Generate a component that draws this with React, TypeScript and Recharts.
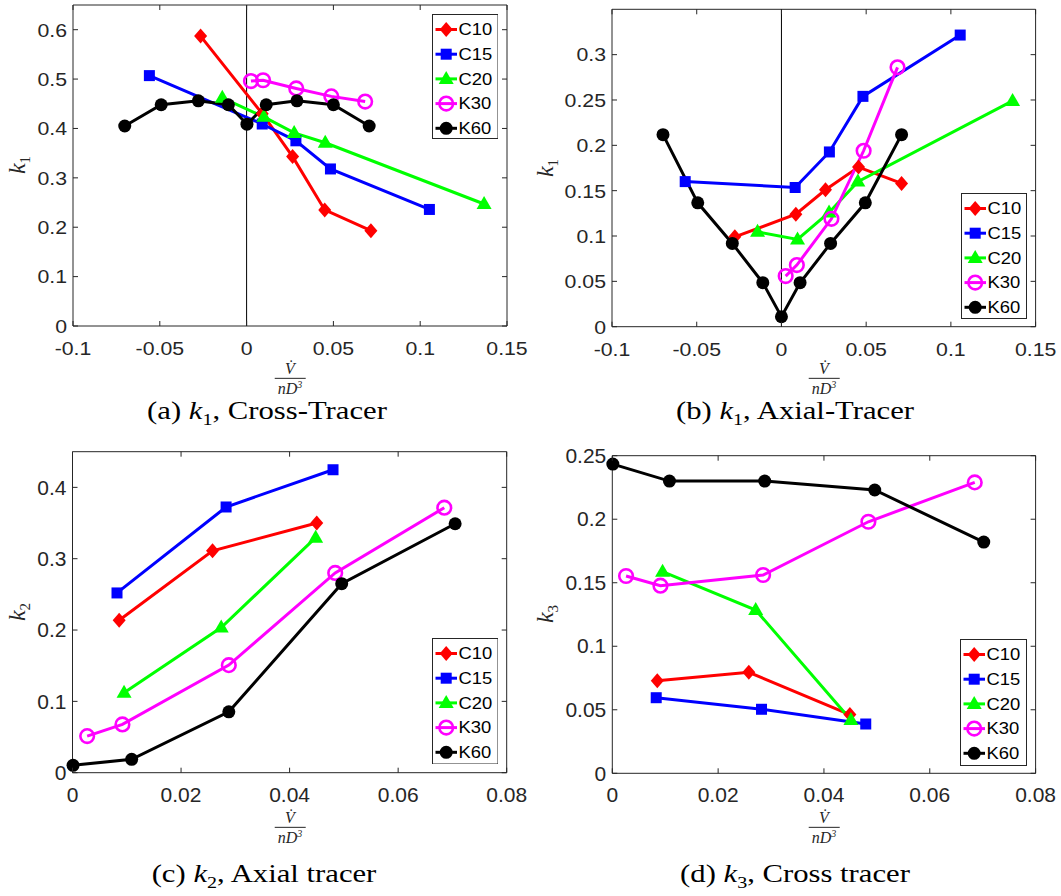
import { LineChart, Line, XAxis, YAxis, ReferenceArea, ReferenceLine } from 'recharts';

// (a) k1, cross tracer
const aC10 = [{ x: -0.0265, y: 0.587 }, { x: 0.009, y: 0.43 }, { x: 0.0265, y: 0.343 }, { x: 0.045, y: 0.235 }, { x: 0.0716, y: 0.193 }];
const aC15 = [{ x: -0.056, y: 0.507 }, { x: 0.009, y: 0.409 }, { x: 0.0284, y: 0.375 }, { x: 0.0483, y: 0.318 }, { x: 0.1053, y: 0.236 }];
const aC20 = [{ x: -0.014, y: 0.462 }, { x: 0.0099, y: 0.4235 }, { x: 0.0274, y: 0.391 }, { x: 0.0453, y: 0.371 }, { x: 0.1368, y: 0.247 }];
const aK30 = [{ x: 0.0025, y: 0.496 }, { x: 0.0095, y: 0.4976 }, { x: 0.0286, y: 0.481 }, { x: 0.0488, y: 0.465 }, { x: 0.0683, y: 0.4545 }];
const aK60 = [
  { x: -0.0702, y: 0.405 }, { x: -0.0492, y: 0.448 }, { x: -0.0278, y: 0.456 }, { x: -0.0105, y: 0.448 }, { x: 0.0002, y: 0.4086 },
  { x: 0.0113, y: 0.448 }, { x: 0.029, y: 0.456 }, { x: 0.05, y: 0.448 }, { x: 0.0706, y: 0.405 },
];

// (b) k1, axial tracer
const bC10 = [{ x: -0.0275, y: 0.0991 }, { x: 0.0085, y: 0.124 }, { x: 0.026, y: 0.151 }, { x: 0.0455, y: 0.176 }, { x: 0.0709, y: 0.158 }];
const bC15 = [{ x: -0.0568, y: 0.16 }, { x: 0.0081, y: 0.1535 }, { x: 0.0283, y: 0.1927 }, { x: 0.0481, y: 0.254 }, { x: 0.1055, y: 0.3216 }];
const bC20 = [{ x: -0.0141, y: 0.1046 }, { x: 0.0095, y: 0.0962 }, { x: 0.0281, y: 0.126 }, { x: 0.0451, y: 0.16 }, { x: 0.1364, y: 0.249 }];
const bK30 = [{ x: 0.0025, y: 0.0558 }, { x: 0.0091, y: 0.068 }, { x: 0.0295, y: 0.119 }, { x: 0.0485, y: 0.194 }, { x: 0.0685, y: 0.286 }];
const bK60 = [
  { x: -0.0699, y: 0.2118 }, { x: -0.0494, y: 0.1366 }, { x: -0.029, y: 0.0918 }, { x: -0.011, y: 0.0485 }, { x: 0, y: 0.011 },
  { x: 0.011, y: 0.0485 }, { x: 0.029, y: 0.0918 }, { x: 0.0495, y: 0.1366 }, { x: 0.0709, y: 0.2118 },
];

// (c) k2, axial tracer
const cC10 = [{ x: 0.0086, y: 0.2138 }, { x: 0.0258, y: 0.311 }, { x: 0.045, y: 0.35 }];
const cC15 = [{ x: 0.0082, y: 0.252 }, { x: 0.0283, y: 0.3725 }, { x: 0.048, y: 0.4247 }];
const cC20 = [{ x: 0.0095, y: 0.112 }, { x: 0.0274, y: 0.2035 }, { x: 0.0448, y: 0.3295 }];
const cK30 = [{ x: 0.0027, y: 0.0513 }, { x: 0.0092, y: 0.0677 }, { x: 0.0288, y: 0.1508 }, { x: 0.0484, y: 0.28 }, { x: 0.0685, y: 0.3715 }];
const cK60 = [{ x: 0.0001, y: 0.0103 }, { x: 0.0109, y: 0.0187 }, { x: 0.0288, y: 0.0854 }, { x: 0.0496, y: 0.265 }, { x: 0.0705, y: 0.349 }];

// (d) k3, cross tracer
const dC10 = [{ x: 0.0085, y: 0.0729 }, { x: 0.0258, y: 0.0795 }, { x: 0.0449, y: 0.0462 }];
const dC15 = [{ x: 0.0083, y: 0.0595 }, { x: 0.0282, y: 0.0504 }, { x: 0.0479, y: 0.0388 }];
const dC20 = [{ x: 0.0095, y: 0.1587 }, { x: 0.0271, y: 0.1285 }, { x: 0.0451, y: 0.042 }];
const dK30 = [{ x: 0.0026, y: 0.1553 }, { x: 0.0091, y: 0.1477 }, { x: 0.0285, y: 0.1561 }, { x: 0.0484, y: 0.198 }, { x: 0.0685, y: 0.229 }];
const dK60 = [{ x: 0.0001, y: 0.2434 }, { x: 0.0108, y: 0.23 }, { x: 0.0288, y: 0.23 }, { x: 0.0496, y: 0.223 }, { x: 0.0702, y: 0.182 }];

const xTicksWide = [-0.1, -0.05, 0, 0.05, 0.1, 0.15];
const xTicksNarrow = [0, 0.02, 0.04, 0.06, 0.08];
const yTicksA = [0, 0.1, 0.2, 0.3, 0.4, 0.5, 0.6];
const yTicksB = [0, 0.05, 0.1, 0.15, 0.2, 0.25, 0.3];
const yTicksC = [0, 0.1, 0.2, 0.3, 0.4];
const yTicksD = [0, 0.05, 0.1, 0.15, 0.2, 0.25];

const seriesNames = ['C10', 'C15', 'C20', 'K30', 'K60'];
const COLORS = ['#ff0000', '#0000ff', '#00ff00', '#ff00ff', '#000000'];
const SHAPES = ['diamond', 'square', 'triangle', 'ring', 'dot'];
const AXIS = '#262626';
const SANS = '"Liberation Sans", Arial, Helvetica, sans-serif';
const SERIF = '"Liberation Serif", "Times New Roman", serif';

function Marker({ shape, cx, cy, color }: { shape: string; cx: number; cy: number; color: string }) {
  if (cx == null || cy == null) return null;
  switch (shape) {
    case 'diamond':
      return <polygon points={`${cx},${cy - 7.5} ${cx + 6.5},${cy} ${cx},${cy + 7.5} ${cx - 6.5},${cy}`} fill={color} />;
    case 'square':
      return <rect x={cx - 5.5} y={cy - 5.5} width={11} height={11} fill={color} />;
    case 'triangle':
      return <polygon points={`${cx},${cy - 8} ${cx + 7.5},${cy + 5} ${cx - 7.5},${cy + 5}`} fill={color} />;
    case 'ring':
      return <circle cx={cx} cy={cy} r={6.8} fill="none" stroke={color} strokeWidth={2.6} />;
    default:
      return <circle cx={cx} cy={cy} r={6.5} fill={color} />;
  }
}

type Panel = {
  left: number; top: number; width: number; height: number;
  margin: { top: number; right: number; bottom: number; left: number };
  yWidth: number; xHeight: number;
  xDomain: [number, number]; xTicks: number[];
  yDomain: [number, number]; yTicks: number[];
  zeroLine: boolean;
  series: { x: number; y: number }[][];
  fs: number; sx: number;
};

function makeXTick(plotTop: number, fs: number, sx: number) {
  return (props: any) => {
    const { x, y, payload } = props;
    return (
      <g>
        <line x1={x} x2={x} y1={y} y2={y - 5} stroke={AXIS} />
        <line x1={x} x2={x} y1={plotTop} y2={plotTop + 5} stroke={AXIS} />
        <text transform={`translate(${x},${y + 29}) scale(${sx},1)`} textAnchor="middle" fontSize={fs} fontFamily={SANS} fill={AXIS}>
          {String(payload.value)}
        </text>
      </g>
    );
  };
}

function makeYTick(plotRight: number, fs: number, sx: number) {
  return (props: any) => {
    const { x, y, payload } = props;
    return (
      <g>
        <line x1={x} x2={x + 5} y1={y} y2={y} stroke={AXIS} />
        <line x1={plotRight} x2={plotRight - 5} y1={y} y2={y} stroke={AXIS} />
        <text transform={`translate(${x - 6},${y + fs * 0.36}) scale(${sx},1)`} textAnchor="end" fontSize={fs} fontFamily={SANS} fill={AXIS}>
          {String(payload.value)}
        </text>
      </g>
    );
  };
}

function PanelChart({ p }: { p: Panel }) {
  const plotRight = p.width - p.margin.right;
  return (
    <div style={{ position: 'absolute', left: p.left, top: p.top }}>
      <LineChart width={p.width} height={p.height} margin={p.margin}>
        <XAxis type="number" dataKey="x" domain={p.xDomain} ticks={p.xTicks} interval={0} height={p.xHeight}
          axisLine={false} tickLine={false} tickSize={0} tickMargin={0} tick={makeXTick(p.margin.top, p.fs, p.sx)} />
        <YAxis type="number" domain={p.yDomain} ticks={p.yTicks} interval={0} width={p.yWidth}
          axisLine={false} tickLine={false} tickSize={0} tickMargin={0} tick={makeYTick(plotRight, p.fs, p.sx)} />
        <ReferenceArea x1={p.xDomain[0]} x2={p.xDomain[1]} y1={p.yDomain[0]} y2={p.yDomain[1]} fill="none" fillOpacity={0} stroke={AXIS} strokeWidth={1} />
        {p.zeroLine && <ReferenceLine x={0} stroke="#000" strokeWidth={1} />}
        {p.series.map((d, i) => (
          <Line key={seriesNames[i]} data={d} dataKey="y" name={seriesNames[i]} type="linear" stroke={COLORS[i]} strokeWidth={3}
            isAnimationActive={false} activeDot={false}
            dot={(dp: any) => <Marker key={`${seriesNames[i]}-${dp.index}`} shape={SHAPES[i]} cx={dp.cx} cy={dp.cy} color={COLORS[i]} />} />
        ))}
      </LineChart>
    </div>
  );
}

function LegendBox({ x, y, w, h, fs, sx }: { x: number; y: number; w: number; h: number; fs: number; sx: number }) {
  return (
    <svg style={{ position: 'absolute', left: x, top: y }} width={w + 1} height={h + 1}>
      <rect x={0.5} y={0.5} width={w} height={h} fill="#fff" stroke={AXIS} strokeWidth={1} />
      {seriesNames.map((n, i) => {
        const cy = 15.5 + i * 24.7;
        return (
          <g key={n}>
            <line x1={3.5} x2={25} y1={cy} y2={cy} stroke={COLORS[i]} strokeWidth={3} />
            <Marker shape={SHAPES[i]} cx={14.2} cy={cy} color={COLORS[i]} />
            <text transform={`translate(26.5,${cy + fs * 0.36}) scale(${sx},1)`} fontSize={fs} fontFamily={SANS} fill="#000">{n}</text>
          </g>
        );
      })}
    </svg>
  );
}

function YLabel({ x, y, sub }: { x: number; y: number; sub: string }) {
  return (
    <div style={{ position: 'absolute', left: x, top: y, transform: 'translate(-50%,-50%) rotate(-90deg)', fontFamily: SERIF, fontSize: 24, color: AXIS, whiteSpace: 'nowrap', lineHeight: 1 }}>
      <i>k</i><sub style={{ fontSize: 15 }}>{sub}</sub>
    </div>
  );
}

function XLabel({ x, y }: { x: number; y: number }) {
  return (
    <div style={{ position: 'absolute', left: x, top: y, transform: 'translate(-50%,-50%)', display: 'flex', flexDirection: 'column', alignItems: 'center', fontFamily: SERIF, fontStyle: 'italic', fontSize: 16, color: AXIS, lineHeight: 1 }}>
      <span style={{ paddingBottom: 1 }}>{'V\u0307'}</span>
      <span style={{ borderTop: `1px solid ${AXIS}`, padding: '1px 3px 0' }}>nD<sup style={{ fontSize: 10 }}>3</sup></span>
    </div>
  );
}

function Caption({ x, y, tag, sub, text }: { x: number; y: number; tag: string; sub: string; text: string }) {
  return (
    <div style={{ position: 'absolute', left: x, top: y, transform: 'translate(-50%,-50%) scaleX(1.18)', fontFamily: SERIF, fontSize: 26, color: '#000', whiteSpace: 'nowrap', lineHeight: 1 }}>
      {tag} <i>k</i><sub style={{ fontSize: 17 }}>{sub}</sub>, {text}
    </div>
  );
}

const panels: Panel[] = [
  {
    left: 0, top: 0, width: 530, height: 380, margin: { top: 5, right: 23, bottom: 0, left: 0 }, yWidth: 73, xHeight: 54,
    xDomain: [-0.1, 0.15], xTicks: xTicksWide, yDomain: [0, 0.65], yTicks: yTicksA, zeroLine: true,
    series: [aC10, aC15, aC20, aK30, aK60], fs: 19, sx: 1.12,
  },
  {
    left: 530, top: 0, width: 531, height: 380, margin: { top: 9.3, right: 25.4, bottom: 0, left: 0 }, yWidth: 82, xHeight: 53.3,
    xDomain: [-0.1, 0.15], xTicks: xTicksWide, yDomain: [0, 0.35], yTicks: yTicksB, zeroLine: true,
    series: [bC10, bC15, bC20, bK30, bK60], fs: 19, sx: 1.12,
  },
  {
    left: 0, top: 440, width: 530, height: 380, margin: { top: 11.7, right: 23.3, bottom: 0, left: 0 }, yWidth: 72.5, xHeight: 47.3,
    xDomain: [0, 0.08], xTicks: xTicksNarrow, yDomain: [0, 0.45], yTicks: yTicksC, zeroLine: false,
    series: [cC10, cC15, cC20, cK30, cK60], fs: 20, sx: 1.05,
  },
  {
    left: 530, top: 440, width: 531, height: 380, margin: { top: 15.7, right: 25.4, bottom: 0, left: 0 }, yWidth: 82.3, xHeight: 46.7,
    xDomain: [0, 0.08], xTicks: xTicksNarrow, yDomain: [0, 0.25], yTicks: yTicksD, zeroLine: false,
    series: [dC10, dC15, dC20, dK30, dK60], fs: 20, sx: 1.05,
  },
];

export default function App() {
  return (
    <div style={{ position: 'absolute', left: 0, top: 0, width: 1061, height: 896, background: '#fff', overflow: 'hidden' }}>
      {panels.map((p, i) => <PanelChart key={i} p={p} />)}

      <LegendBox x={431.5} y={14} w={65.5} h={124} fs={16} sx={1.15} />
      <LegendBox x={961} y={193} w={65} h={125} fs={16} sx={1.15} />
      <LegendBox x={431.5} y={637.5} w={65.5} h={125.5} fs={16} sx={1.15} />
      <LegendBox x={960} y={639} w={66} h={126} fs={16} sx={1.15} />

      <YLabel x={19} y={165} sub="1" />
      <YLabel x={547} y={168} sub="1" />
      <YLabel x={19} y={612} sub="2" />
      <YLabel x={547} y={614} sub="3" />

      <XLabel x={290} y={379} />
      <XLabel x={824} y={379} />
      <XLabel x={290} y={828} />
      <XLabel x={824} y={828} />

      <Caption x={267} y={413} tag="(a)" sub="1" text="Cross-Tracer" />
      <Caption x={795} y={413} tag="(b)" sub="1" text="Axial-Tracer" />
      <Caption x={264} y={876} tag="(c)" sub="2" text="Axial tracer" />
      <Caption x={795} y={876} tag="(d)" sub="3" text="Cross tracer" />
    </div>
  );
}
